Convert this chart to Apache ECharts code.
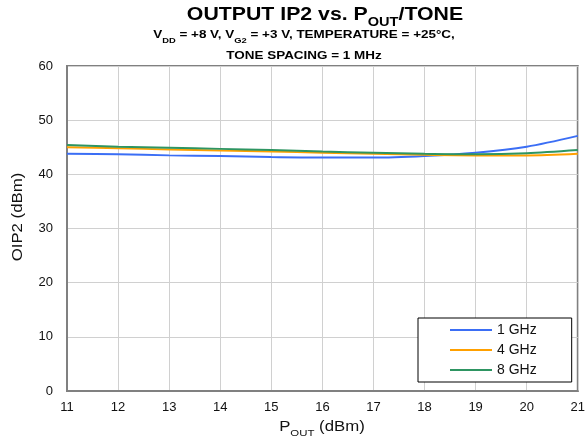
<!DOCTYPE html>
<html>
<head>
<meta charset="utf-8">
<script src="https://cdn.jsdelivr.net/npm/echarts@6/dist/echarts.min.js"></script>
<style>html,body{margin:0;padding:0;background:#fff;}#c{width:588px;height:442px;}</style>
</head>
<body>
<div id="c"></div>
<script>
const pout = [11, 12, 13, 14, 15, 16, 17, 18, 19, 20, 21];
const ghz1 = [43.8, 43.7, 43.5, 43.4, 43.2, 43.1, 43.1, 43.4, 44.0, 45.1, 47.1];
const ghz4 = [45.0, 44.8, 44.6, 44.4, 44.2, 44.0, 43.8, 43.6, 43.5, 43.5, 43.8];
const ghz8 = [45.4, 45.1, 44.9, 44.7, 44.5, 44.2, 44.0, 43.8, 43.7, 43.9, 44.5];
const seriesNames = ['1 GHz', '4 GHz', '8 GHz'];
const colors = ['#3b6ef5', '#ffa000', '#2e9562'];

const pairs = arr => pout.map((x, i) => [x, arr[i]]);
const font = 'Arial, "Liberation Sans", sans-serif';

const chart = echarts.init(document.getElementById('c'), null, {renderer: 'canvas'});
chart.setOption({
  animation: false,
  backgroundColor: '#fff',
  color: colors,
  textStyle: {fontFamily: font},
  grid: {left: 67, right: 8, top: 66, bottom: 51, show: true, borderColor: '#808080', borderWidth: 2, backgroundColor: 'transparent'},
  graphic: [
    {type: 'text', x: 325, y: 5, scaleX: 1.12, style: {
      align: 'center',
      text: '{b|OUTPUT IP2 vs. P}{s|OUT}{b|/TONE}',
      rich: {
        b: {fontSize: 19, fontWeight: 'bold', fontFamily: font, fill: '#000', lineHeight: 24, verticalAlign: 'top'},
        s: {fontSize: 13, fontWeight: 'bold', fontFamily: font, fill: '#000', lineHeight: 15, verticalAlign: 'bottom'}
      }
    }},
    {type: 'text', x: 304, y: 29, scaleX: 1.17, style: {
      align: 'center',
      text: '{b|V}{s|DD}{b| = +8 V, V}{s|G2}{b| = +3 V, TEMPERATURE = +25°C,}',
      rich: {
        b: {fontSize: 11.5, fontWeight: 'bold', fontFamily: font, fill: '#000', lineHeight: 16, verticalAlign: 'top'},
        s: {fontSize: 8, fontWeight: 'bold', fontFamily: font, fill: '#000', lineHeight: 10, verticalAlign: 'bottom'}
      }
    }},
    {type: 'text', x: 304, y: 50, scaleX: 1.17, style: {
      align: 'center',
      text: 'TONE SPACING = 1 MHz', fontSize: 11.5, fontWeight: 'bold', fontFamily: font, fill: '#000'
    }},
    {type: 'text', x: 322, y: 420, scaleX: 1.2, style: {
      align: 'center',
      text: '{n|P}{s|OUT}{n| (dBm)}',
      rich: {
        n: {fontSize: 14, fontFamily: font, fill: '#111', lineHeight: 18, verticalAlign: 'top'},
        s: {fontSize: 9.5, fontFamily: font, fill: '#111', lineHeight: 10, verticalAlign: 'bottom'}
      }
    }},
    {type: 'text', x: 18, y: 217, rotation: Math.PI / 2, scaleX: 1.2, style: {
      align: 'center', verticalAlign: 'middle',
      text: 'OIP2 (dBm)', fontSize: 14, fontFamily: font, fill: '#111'
    }}
  ],
  legend: {
    data: seriesNames,
    orient: 'vertical',
    left: 418, top: 318,
    padding: [5, 35, 5, 32],
    itemWidth: 42, itemHeight: 2, itemGap: 6,
    icon: 'rect',
    backgroundColor: '#fff',
    borderColor: '#000', borderWidth: 1, borderRadius: 0,
    textStyle: {fontSize: 14, color: '#111', fontFamily: font, lineHeight: 14}
  },
  xAxis: {
    type: 'value', min: 11, max: 21, interval: 1,
    axisLine: {show: true, onZero: false, lineStyle: {color: '#808080', width: 2}},
    axisTick: {show: false},
    axisLabel: {fontSize: 13, color: '#111', margin: 10, fontFamily: font},
    splitLine: {show: true, lineStyle: {color: '#d0d0d0', width: 1}}
  },
  yAxis: {
    type: 'value', min: 0, max: 60, interval: 10,
    axisLine: {show: true, lineStyle: {color: '#808080', width: 2}},
    axisTick: {show: false},
    axisLabel: {fontSize: 13, color: '#111', margin: 14, fontFamily: font},
    splitLine: {show: true, lineStyle: {color: '#d0d0d0', width: 1}}
  },
  series: [
    {name: seriesNames[0], type: 'line', data: pairs(ghz1), smooth: 0.3, showSymbol: false, lineStyle: {width: 2}},
    {name: seriesNames[1], type: 'line', data: pairs(ghz4), smooth: 0.3, showSymbol: false, lineStyle: {width: 2}},
    {name: seriesNames[2], type: 'line', data: pairs(ghz8), smooth: 0.3, showSymbol: false, lineStyle: {width: 2}}
  ]
});
</script>
</body>
</html>
